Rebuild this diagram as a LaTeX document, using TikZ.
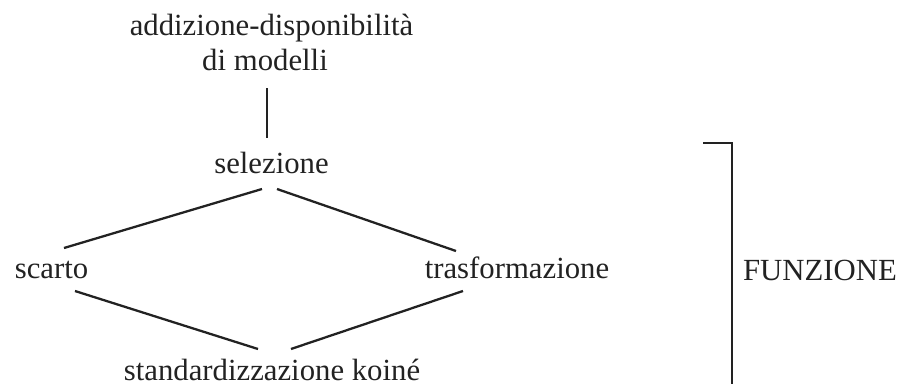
\documentclass[tikz,border=0pt]{standalone}
\usepackage{fontspec}
\setmainfont{Liberation Serif}
\definecolor{ink}{HTML}{222222}
\tikzset{
  lbl/.style={anchor=base,inner sep=0pt,text=ink,font=\fontsize{17.5}{21}\selectfont},
  link/.style={draw=ink,line width=1.3pt}
}
\begin{document}
\begin{tikzpicture}[x=0.02cm,y=-0.02cm]
  \useasboundingbox (0,0) rectangle (904,383);
  \node[lbl] (add) at (271.5,35) {addizione-disponibilità};
  \node[lbl] (mod) at (265,70) {di modelli};
  \node[lbl] (sel) at (271.5,173) {selezione};
  \node[lbl] (sc) at (51.5,278) {scarto};
  \node[lbl] (tr) at (517,278) {trasformazione};
  \node[lbl] (std) at (272,380) {standardizzazione koiné};
  \node[lbl] (fun) at (820,280) {FUNZIONE};
  % diamond
  \draw[link] ([shift={(2,18)}]mod.base) -- ([shift={(-4.5,-35)}]sel.base);
  \draw[link] ([shift={(-9.5,16)}]sel.base) -- ([shift={(12.5,-30)}]sc.base);
  \draw[link] ([shift={(5.5,16)}]sel.base) -- ([shift={(-61,-27)}]tr.base);
  \draw[link] ([shift={(23.5,13)}]sc.base) -- ([shift={(-14,-31)}]std.base);
  \draw[link] ([shift={(-54,13)}]tr.base) -- ([shift={(19,-31)}]std.base);
  % bracket
  \coordinate (brtop) at (703,143);
  \coordinate (brbot) at (732,386);
  \draw[link] (brtop) -| (brbot);
\end{tikzpicture}
\end{document}
